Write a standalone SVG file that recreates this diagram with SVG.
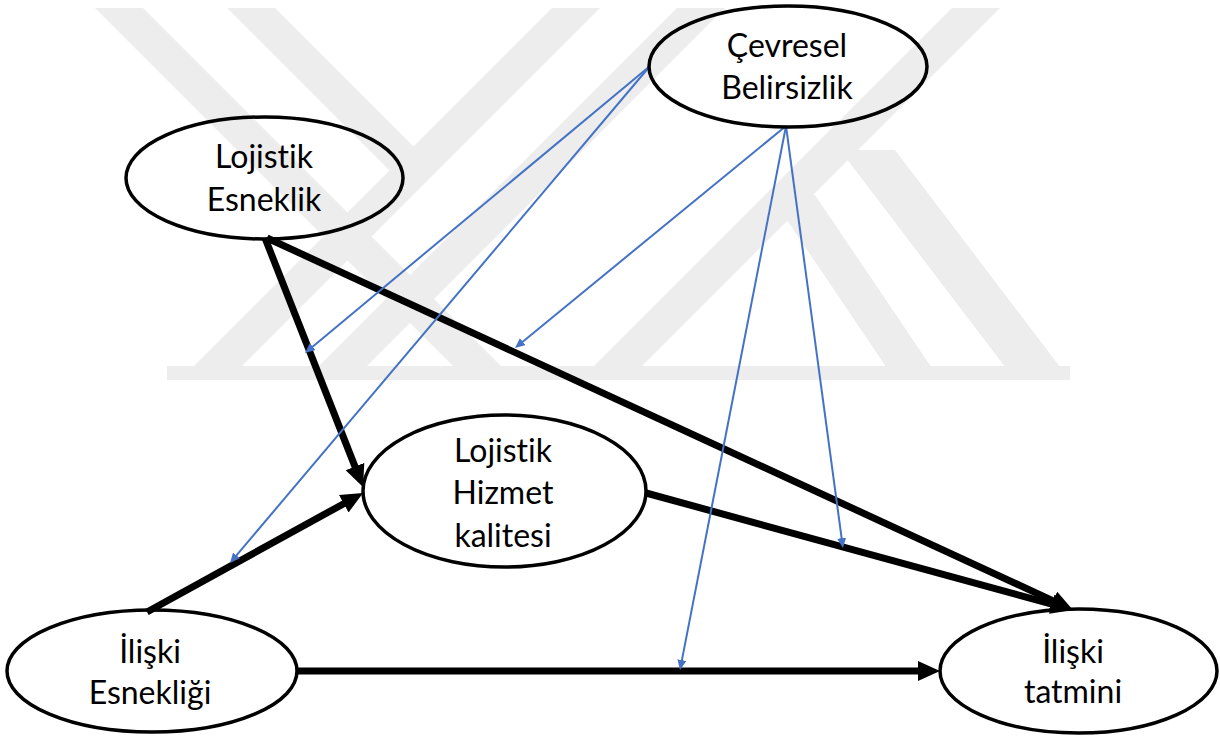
<svg xmlns="http://www.w3.org/2000/svg" width="1220" height="736" viewBox="0 0 1220 736">
  <style>
    .node { fill: none; stroke: #000; stroke-width: 3.5; }
    .label { font-family: Lato, "Open Sans", sans-serif; font-size: 32px; fill: #000; text-anchor: middle; font-variant-ligatures: none; font-feature-settings: "liga" 0; }
    .main { fill: none; stroke: #000; stroke-width: 7; marker-end: url(#bigArrow); }
    .mod { fill: none; stroke: #4472C4; stroke-width: 2; marker-end: url(#smallArrow); }
    .mark { fill: #ededed; }
  </style>
  <defs>
    <marker id="bigArrow" markerUnits="userSpaceOnUse" markerWidth="24" markerHeight="22" refX="2" refY="10" orient="auto">
      <path d="M0,0 L22,10 L0,20 z" fill="#000"/>
    </marker>
    <marker id="smallArrow" markerUnits="userSpaceOnUse" markerWidth="12" markerHeight="10" refX="2" refY="4.5" orient="auto">
      <path d="M0,0 L10,4.5 L0,9 z" fill="#4472C4"/>
    </marker>
    <clipPath id="markClip">
      <rect x="0" y="8" width="1220" height="372"/>
    </clipPath>
  </defs>

  <rect width="1220" height="736" fill="#fff"/>

  <!-- faint background emblem -->
  <g id="emblem" clip-path="url(#markClip)">
    <polygon class="mark" points="95,8 143,8 515,380 467,380"/>
    <polygon class="mark" points="227,8 275,8 418,151 394,175"/>
    <polygon class="mark" points="552,8 600,8 228,380 180,380"/>
    <polygon class="mark" points="677,8 725,8 353,380 305,380"/>
    <polygon class="mark" points="952,8 1000,8 628,380 580,380"/>
    <polygon class="mark" points="840,150 895,150 1070,380 1015,380"/>
    <polygon class="mark" points="770,195 815,195 940,380 895,380"/>
    <rect class="mark" x="167" y="366" width="903" height="14"/>
  </g>

  <!-- connectors -->
  <g id="connectors">
    <path class="main" d="M265,238 L355.7,468.4"/>
    <path class="main" d="M267,238 L1054.8,601.6"/>
    <path class="main" d="M646,493 L1053.7,604.7"/>
    <path class="main" d="M147,612 L345.5,502.7"/>
    <path class="main" d="M297,671 L920,671"/>
    <path class="mod" d="M650,66 L311.1,347.9"/>
    <path class="mod" d="M650,66 L235.2,556.9"/>
    <path class="mod" d="M786,126 L521.2,342.9"/>
    <path class="mod" d="M786,126 L681.5,662.1"/>
    <path class="mod" d="M786,126 L841.9,540.1"/>
  </g>

  <g id="lojistik-esneklik">
    <ellipse class="node" cx="264.5" cy="178" rx="138.5" ry="61"/>
    <text class="label" x="264" y="168">Lojistik</text>
    <text class="label" x="264" y="211">Esneklik</text>
  </g>

  <g id="cevresel-belirsizlik">
    <ellipse class="node" cx="788" cy="66.5" rx="139" ry="60.5"/>
    <text class="label" x="787" y="57">Çevresel</text>
    <text class="label" x="787" y="99">Belirsizlik</text>
  </g>

  <g id="lojistik-hizmet-kalitesi">
    <ellipse class="node" cx="504.5" cy="491" rx="141.5" ry="76"/>
    <text class="label" x="503" y="462">Lojistik</text>
    <text class="label" x="503" y="504">Hizmet</text>
    <text class="label" x="503" y="547">kalitesi</text>
  </g>

  <g id="iliski-esnekligi">
    <ellipse class="node" cx="152" cy="671" rx="145" ry="61"/>
    <text class="label" x="150" y="663">İlişki</text>
    <text class="label" x="150" y="704">Esnekliği</text>
  </g>

  <g id="iliski-tatmini">
    <ellipse class="node" cx="1078.5" cy="671" rx="138.5" ry="62"/>
    <text class="label" x="1073" y="663">İlişki</text>
    <text class="label" x="1073" y="703">tatmini</text>
  </g>
</svg>
